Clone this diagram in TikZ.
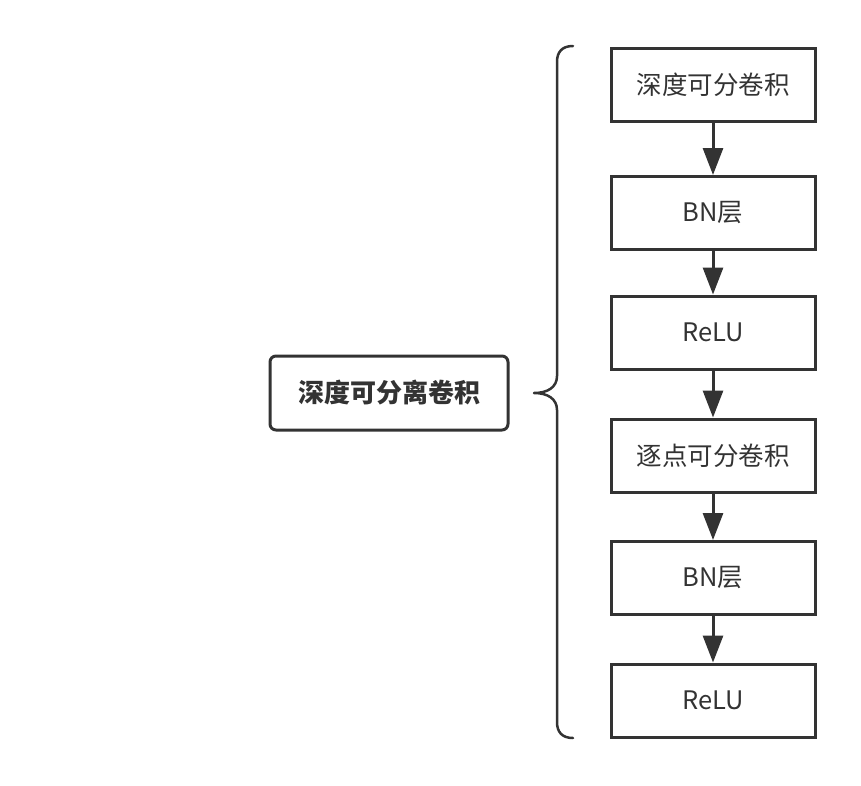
\documentclass[tikz,border=0pt]{standalone}
\usepackage{fontspec}
\setmainfont{Noto Sans CJK SC}
\usetikzlibrary{arrows.meta}
\definecolor{ink}{HTML}{333333}

\begin{document}
\begin{tikzpicture}[x=1pt,y=-1pt,line cap=round,line join=round,>={Triangle[width=20pt,length=27pt]},
	blk/.style={draw=ink,line width=3pt,line join=miter,minimum width=204pt,minimum height=73pt,inner sep=0pt,text=ink,font=\fontsize{25.5}{30}\selectfont},
	mainblk/.style={draw=ink,line width=3pt,rounded corners=6pt,minimum width=238pt,minimum height=74pt,inner sep=0pt,text=ink,font=\fontsize{26}{30}\selectfont\bfseries},
	flow/.style={draw=ink,line width=3pt,->}]
				\useasboundingbox (0,0) rectangle (861,785);
				
				\node[mainblk] (main) at (389,393) {深度可分离卷积};
				
				\node[blk] (dw) at (713,84.5) {深度可分卷积};
				\node[blk] (bn1) at (713,213) {BN层};
				\node[blk] (relu1) at (713,332.5) {ReLU};
				\node[blk] (pw) at (713,455.5) {逐点可分卷积};
				\node[blk] (bn2) at (713,578) {BN层};
				\node[blk] (relu2) at (713,700.5) {ReLU};
				
				\draw[flow] (dw) -- (bn1);
				\draw[flow] (bn1) -- (relu1);
				\draw[flow] (relu1) -- (pw);
				\draw[flow] (pw) -- (bn2);
				\draw[flow] (bn2) -- (relu2);
				
				% brace
				\draw[ink,line width=2.5pt] (573,46) .. controls (562,46) and (557,52) .. (557,62) -- (557,376)
					.. controls (557,387) and (548,393) .. (534,393)
					.. controls (548,393) and (557,399) .. (557,410) -- (557,722)
					.. controls (557,732) and (562,738) .. (573,738);
			\end{tikzpicture}
\end{document}
